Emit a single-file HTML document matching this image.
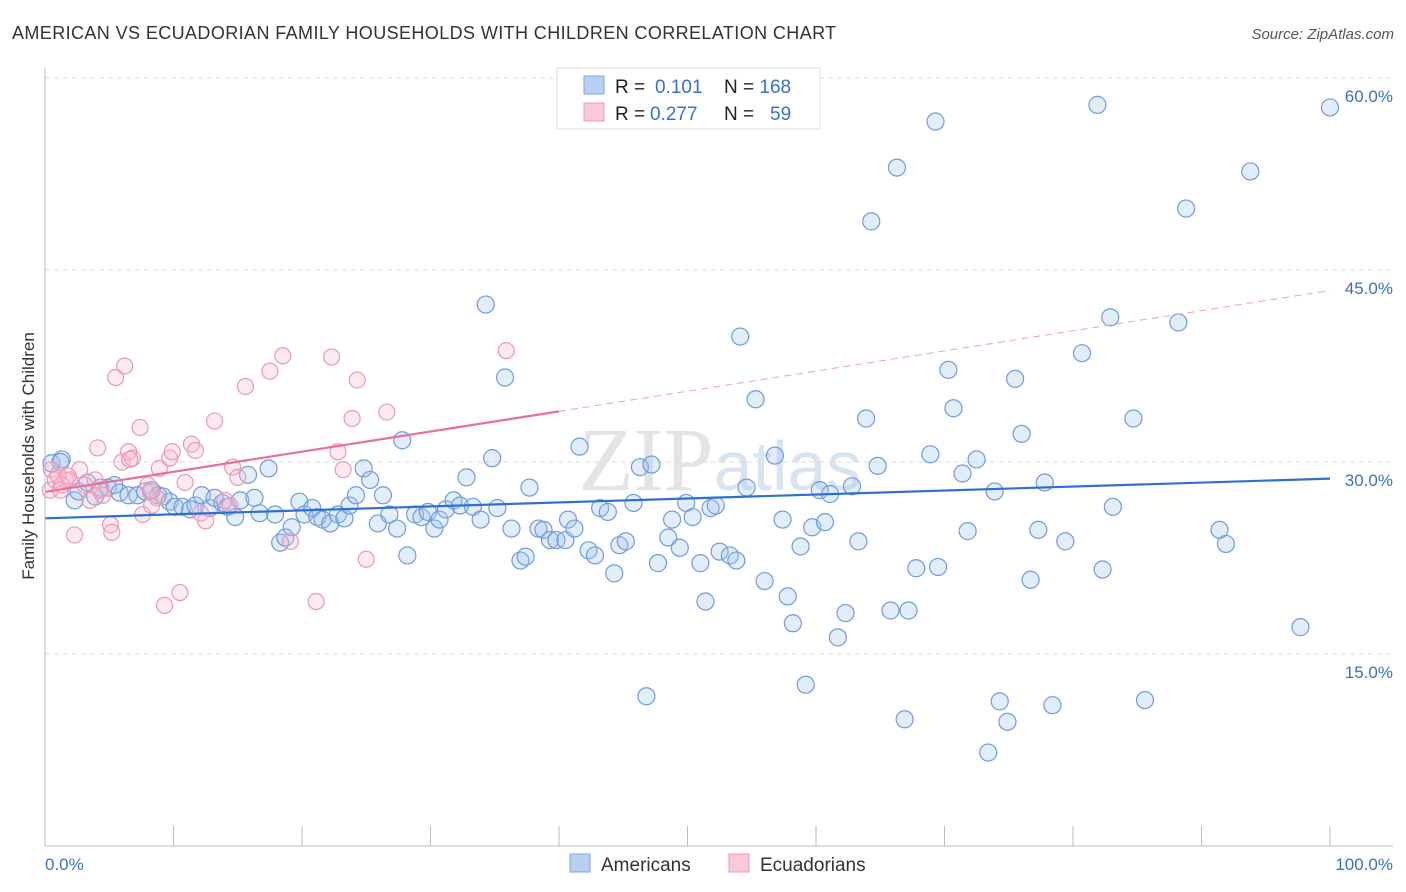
<!DOCTYPE html>
<html><head><meta charset="utf-8"><style>
body{margin:0;background:#fff;font-family:"Liberation Sans",sans-serif;}
#wrap{position:relative;width:1406px;height:892px;overflow:hidden;}
</style></head><body>
<div id="wrap">
<svg id="svg" width="1406" height="892">
<text x="12" y="39" font-size="18" letter-spacing="0.4" fill="#333">AMERICAN VS ECUADORIAN FAMILY HOUSEHOLDS WITH CHILDREN CORRELATION CHART</text>
<text x="1394" y="39" font-size="15" fill="#555" font-style="italic" text-anchor="end">Source: ZipAtlas.com</text>
<text transform="translate(34,456) rotate(-90)" font-size="17" fill="#333" text-anchor="middle">Family Households with Children</text>
<text x="720" y="490" font-size="90" fill="#e4e4e4" text-anchor="middle" font-family="Liberation Serif">ZIP<tspan fill="#d8e4f2" font-family="Liberation Sans" font-size="70">atlas</tspan></text>
<g id="grid"></g><g id="pts"></g><g id="trend"></g>
<line x1="45" y1="68" x2="45" y2="846" stroke="#bbb"/>
<line x1="45" y1="846" x2="1393" y2="846" stroke="#bbb"/>
<text x="45" y="870" font-size="17" fill="#3a70c9">0.0%</text>
<text x="1393" y="870" font-size="17" fill="#3a70c9" text-anchor="end">100.0%</text>
<g>
<rect x="557" y="68" width="263" height="61" fill="#fff" stroke="#ddd"/>
<rect x="584" y="76" width="20" height="18" fill="#b8d0f4" stroke="#7fa6e0"/>
<rect x="584" y="103" width="20" height="18" fill="#fac8d8" stroke="#ee9ab5"/>
<text x="615" y="93" font-size="19" fill="#222">R = <tspan fill="#3a70c9" x="655">0.101</tspan><tspan x="724" fill="#222">N = </tspan><tspan fill="#3a70c9">168</tspan></text>
<text x="615" y="120" font-size="19" fill="#222">R = <tspan fill="#3a70c9" x="650">0.277</tspan><tspan x="724" fill="#222">N = </tspan><tspan fill="#3a70c9" x="770">59</tspan></text>
</g>
<g>
<rect x="570" y="854" width="20" height="18" fill="#b8d0f4" stroke="#7fa6e0"/>
<text x="601" y="871" font-size="19" fill="#333">Americans</text>
<rect x="729" y="854" width="20" height="18" fill="#fac8d8" stroke="#ee9ab5"/>
<text x="760" y="871" font-size="19" fill="#333">Ecuadorians</text>
</g>
</svg>
</div>
<script>
const yTicks=[15,30,45,60];
const xTicks=[0,10,20,30,40,50,60,70,80,90,100];
const blueX=[0.5,1.3,2.3,2.6,3.3,3.9,4.3,4.9,5.4,5.8,6.5,7.2,7.8,8.3,8.8,9.2,9.7,10.1,10.7,11.3,11.7,12.2,12.8,13.2,13.8,14.2,14.8,15.2,15.8,16.3,16.7,17.4,17.9,18.3,18.7,19.2,19.8,20.2,20.8,21.2,21.6,22.2,22.8,23.3,23.7,24.2,24.8,25.3,25.9,26.3,26.8,27.4,27.8,28.2,28.8,29.3,29.8,30.3,30.7,31.2,31.8,32.3,32.8,33.3,33.9,34.3,34.8,35.2,35.8,36.3,37.0,37.4,37.7,38.4,38.8,39.3,39.8,40.5,40.7,41.2,41.6,42.3,42.8,43.2,43.8,44.3,44.7,45.2,45.8,46.3,46.8,47.2,47.7,48.5,48.8,49.4,49.9,50.4,51.0,51.4,51.8,52.2,52.5,53.3,53.8,54.1,54.6,55.3,56.0,56.8,57.4,57.8,58.2,58.8,59.2,59.7,60.3,60.7,61.1,61.7,62.3,62.8,63.3,63.9,64.3,64.8,65.8,66.3,66.9,67.2,67.8,68.9,69.3,69.5,70.3,70.7,71.4,71.8,72.5,73.4,73.9,74.3,74.9,75.5,76.0,76.7,77.3,77.8,78.4,79.4,80.7,81.9,82.3,82.9,83.1,84.7,85.6,88.2,88.8,91.4,91.9,93.8,97.7,100,1.2];
const blueY=[29.9,30.2,27.0,27.7,28.4,27.3,28.0,28.0,28.2,27.6,27.4,27.4,27.7,27.8,27.4,27.3,26.9,26.5,26.5,26.3,26.6,27.4,26.4,27.2,26.8,26.5,25.7,27.0,29.0,27.2,26.0,29.5,25.9,23.7,24.1,24.9,26.9,25.9,26.4,25.7,25.5,25.2,25.9,25.6,26.6,27.4,29.5,28.6,25.2,27.4,25.9,24.8,31.7,22.7,25.9,25.7,26.1,24.8,25.5,26.3,27.0,26.6,28.8,26.5,25.5,42.3,30.3,26.4,36.6,24.8,22.3,22.6,28.0,24.8,24.7,23.9,23.9,23.9,25.5,24.8,31.2,23.1,22.7,26.4,26.1,21.3,23.5,23.8,26.8,29.6,11.7,29.8,22.1,24.1,25.5,23.3,26.8,25.7,22.1,19.1,26.4,26.6,23.0,22.7,22.3,39.8,28.0,34.9,20.7,30.5,25.5,19.5,17.4,23.4,12.6,24.9,27.8,25.3,27.5,16.3,18.2,28.1,23.8,33.4,48.8,29.7,18.4,53.0,9.9,18.4,21.7,30.6,56.6,21.8,37.2,34.2,29.1,24.6,30.2,7.3,27.7,11.3,9.7,36.5,32.2,20.8,24.7,28.4,11.0,23.8,38.5,57.9,21.6,41.3,26.5,33.4,11.4,40.9,49.8,24.7,23.6,52.7,17.1,57.7,30.0];
const pinkX=[0.4,0.5,0.8,1.2,1.6,1.9,2.3,2.7,3.1,3.5,3.9,4.1,4.5,5.1,5.2,5.5,6.0,6.2,6.5,6.8,7.4,7.6,8.0,8.3,8.7,8.9,9.3,9.7,9.9,10.5,10.9,11.4,11.7,12.1,12.5,13.2,14.0,14.6,15.0,15.6,17.5,18.5,19.1,21.1,22.3,22.8,23.2,23.9,24.3,25.0,26.6,35.9,1.0,1.3,4.3,1.8,6.6,8.2,14.4];
const pinkY=[27.8,29.4,28.6,27.8,28.6,28.6,24.3,29.4,28.2,27.0,28.6,31.1,27.4,25.1,24.5,36.6,30.0,37.5,30.8,30.3,32.7,25.9,28.2,26.6,27.2,29.5,18.8,30.3,30.8,19.8,28.4,31.4,30.9,26.0,25.4,33.2,27.0,29.6,28.8,35.9,37.1,38.3,23.8,19.1,38.2,30.8,29.4,33.4,36.4,22.4,33.9,38.7,29.0,28.2,27.8,28.9,30.2,27.7,26.6];
const blueTrend=[25.6,28.7];
const pinkTrend=[27.66,43.4];
const pinkSolidEnd=40;
const X0=45,X1=1330,Y0=846,Y60=78;
const sx=v=>X0+(X1-X0)*v/100;
const sy=v=>Y0-(Y0-Y60)*v/60;
const NS='http://www.w3.org/2000/svg';
function mk(t,a,p){const e=document.createElementNS(NS,t);for(const k in a)e.setAttribute(k,a[k]);p.appendChild(e);return e;}
const grid=document.getElementById('grid'),svg=document.getElementById('svg');
yTicks.forEach(v=>{
 const l=mk('line',{x1:45,x2:1393,y1:sy(v),y2:sy(v),stroke:'#ddd','stroke-dasharray':'5,4'},grid);
 
 
 const t=mk('text',{x:1393,y:sy(v)+24,'font-size':17,fill:'#3a70c9','text-anchor':'end'},grid);
 t.textContent=v.toFixed(1)+'%';
 
 
});
xTicks.forEach(v=>{
 const l=mk('line',{x1:sx(v),x2:sx(v),y1:826,y2:846,stroke:'#bbb'},grid);
 
 
});
const pts=document.getElementById('pts');
blueX.forEach((x,i)=>{
 const c=mk('circle',{cx:sx(x),cy:sy(blueY[i]),r:8.5,fill:'rgba(160,195,240,0.3)',stroke:'#6f9be0','stroke-width':1.2},pts);
 
 
});
pinkX.forEach((x,i)=>{
 const c=mk('circle',{cx:sx(x),cy:sy(pinkY[i]),r:8,fill:'rgba(248,185,205,0.3)',stroke:'#ec98b3','stroke-width':1.2},pts);
 
 
});
const tr=document.getElementById('trend');
const pAt=x=>pinkTrend[0]+(pinkTrend[1]-pinkTrend[0])*x/100;
let l=mk('line',{x1:sx(0),y1:sy(blueTrend[0]),x2:sx(100),y2:sy(blueTrend[1]),stroke:'#2f6fd0','stroke-width':2.2},tr);


l=mk('line',{x1:sx(0),y1:sy(pAt(0)),x2:sx(pinkSolidEnd),y2:sy(pAt(pinkSolidEnd)),stroke:'#e8709a','stroke-width':2.2},tr);


l=mk('line',{x1:sx(pinkSolidEnd),y1:sy(pAt(pinkSolidEnd)),x2:sx(100),y2:sy(pAt(100)),stroke:'#eea0b8','stroke-width':1,'stroke-dasharray':'7,5'},tr);


</script>
</body></html>
